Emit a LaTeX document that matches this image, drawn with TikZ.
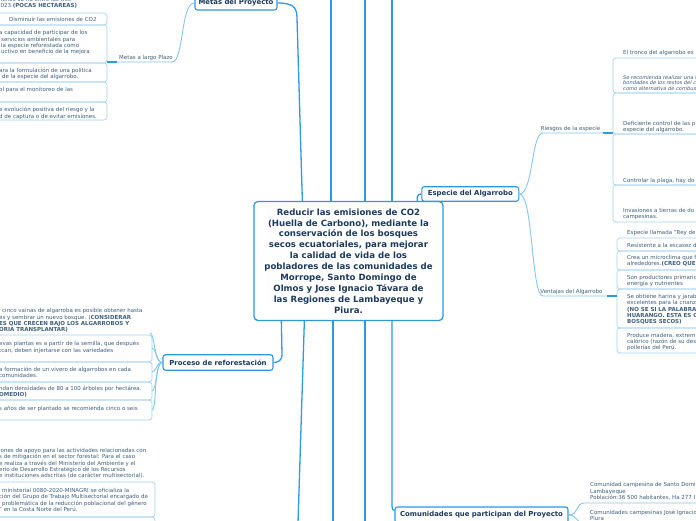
\documentclass[tikz,border=0pt]{standalone}
\usepackage{fontspec}
\setmainfont{DejaVu Sans}
\usetikzlibrary{calc}
\definecolor{navy}{HTML}{1C3A5E}
\definecolor{slate}{HTML}{3E5F7E}
\definecolor{topicblue}{HTML}{2F97E0}
\definecolor{linkblue}{HTML}{2C9BE5}
\definecolor{subblue}{HTML}{86C5EE}
\definecolor{boxblue}{HTML}{A6D3F2}
\tikzset{
  conn/.style={draw=linkblue, line width=1.3pt},
  subconn/.style={draw=subblue, line width=0.9pt},
  itembox/.style={draw=boxblue, line width=0.7pt, rounded corners=3pt},
  topic/.style={draw=topicblue, line width=1.1pt, rounded corners=2.5pt, fill=white, text=navy,
    font=\bfseries\fontsize{6.9}{8}\selectfont, inner sep=0pt},
  central/.style={draw=topicblue, line width=1.3pt, rounded corners=4pt, fill=white, text=navy,
    font=\bfseries\fontsize{8.6}{10.9}\selectfont, align=center, inner sep=0pt,
    minimum width=189pt, minimum height=119pt},
  itemtxt/.style={anchor=west, align=left, inner sep=0pt, text=slate, font=\fontsize{5.5}{6.3}\selectfont},
  sublabel/.style={inner sep=0pt, text=slate, font=\fontsize{5.5}{6.3}\selectfont}
}
\begin{document}
\begin{tikzpicture}[x=1pt,y=-1pt]
\useasboundingbox (0,0) rectangle (696,520);
\clip (0,0) rectangle (696,520);
\fill[white] (0,0) rectangle (696,520);

% ---------- item boxes ----------
% Metas a largo plazo
\foreach \a/\b in {13/25,25/63,63/82,82/102,102/120}
  \draw[itembox] (-10,\a) rectangle (107,\b);
% Proceso de reforestacion
\foreach \a/\b in {335/362,362/382,382/400,400/420}
  \draw[itembox] (-10,\a) rectangle (152,\b);
% bottom-left items
\foreach \a/\b in {482/517,517/540}
  \draw[itembox] (-10,\a) rectangle (155,\b);
% Riesgos
\foreach \a/\b in {58/93,93/134,134/185,185/222}
  \draw[itembox] (613,\a) rectangle (710,\b);
% Ventajas
\foreach \a/\b in {238/251,251/270,270/289,289/328,328/353}
  \draw[itembox] (617,\a) rectangle (710,\b);

% ---------- nodes ----------
\node[central] (center) at (348.5,261) {Reducir las emisiones de CO2\\(Huella de Carbono), mediante la\\conservación de los bosques\\secos ecuatoriales, para mejorar\\la calidad de vida de los\\pobladores de las comunidades de\\Morrope, Santo Domingo de\\Olmos y Jose Ignacio Távara de\\las Regiones de Lambayeque y\\Piura.};
\node[topic, minimum width=82pt, minimum height=14pt] (metas) at (236,3) {Metas del Proyecto};
\node[topic, minimum width=97pt, minimum height=14.5pt] (especie) at (470.3,194) {Especie del Algarrobo};
\node[topic, minimum width=110pt, minimum height=15.5pt] (proceso) at (218,362.5) {Proceso de reforestación};
\node[topic, minimum width=173pt, minimum height=16pt] (comun) at (481.5,515) {Comunidades que participan del Proyecto};

\coordinate (t2) at (331,-3);
\coordinate (b2) at (333,523);
\coordinate (t3) at (365,-3);
\coordinate (b3) at (365,523);
\coordinate (t4) at (392,-3);
\coordinate (b1) at (298,523);

% ---------- main connectors ----------
\draw[conn] (metas.east) .. controls +(15,0) and +(0,-11) .. (297,18) -- ($(center.north west)+(49,0)$);
\draw[conn] ($(center.south west)+(51,0)$) -- (b1);
\draw[conn] (t2) -- (t2 |- center.north);
\draw[conn] (center.south -| b2) -- (b2);
\draw[conn] (t3) -- (t3 |- center.north);
\draw[conn] (center.south -| b3) -- (b3);
\draw[conn] (t4) -- (t4 |- center.north);
\draw[conn] (center.south -| t4) -- (392,505) .. controls (392,509) and (393,511) .. ($(comun.north west)+(0,4)$);
\draw[conn] ($(center.south west)+(28,0)$) -- (282,355) .. controls +(0,5) and +(5,0) .. (proceso.east);
\draw[conn] ($(center.north west)+(164,0)$) -- ++(0,-4) .. controls +(0,-2) and +(-2,0) .. (especie.west);

% ---------- sub connectors ----------
\node[sublabel] (largo) at (146,58) {Metas a largo Plazo};
\draw[subconn] (metas.west) .. controls +(-14,0) and +(12,0) .. (172,62) -- (107,62);
\draw[conn] (117,62) -- (107,62);

\node[sublabel] (riesgos) at (570.5,128.5) {Riesgos de la especie};
\draw[subconn] (especie.east) .. controls +(14,0) and +(-12,0) .. (543,133) -- (613,133);
\draw[conn] (603,133) -- (613,133);

\node[sublabel] (ventajas) at (571.5,291.5) {Ventajas del Algarrobo};
\draw[subconn] (especie.east) .. controls +(14,0) and +(-12,0) .. (543,296) -- (617,296);
\draw[conn] (607,296) -- (617,296);

\draw[subconn] (proceso.west) .. controls +(-9,0) and +(5,0) .. (150,333);
\draw[subconn] (proceso.west) .. controls +(-7,0) and +(5,0) .. (152,348.5);
\draw[subconn] (proceso.west) .. controls +(-7,0) and +(5,0) .. (152,372);
\draw[subconn] (proceso.west) .. controls +(-7,0) and +(5,0) .. (152,391);
\draw[subconn] (proceso.west) .. controls +(-9,0) and +(5,0) .. (152,410);

\draw[subconn] (comun.east) .. controls +(10,0) and +(-8,0) .. (584,503) -- (700,503);
\draw[subconn] (comun.east) .. controls +(8,0) and +(-6,0) .. (584,524);

% ---------- item texts: Metas ----------
\node[itemtxt] (m0) at (-3,2.5) {menos 12 ha entre las tres\\2023.\textbf{(POCAS HECTAREAS)}};
\node[itemtxt] (m1) at (9,19.5) {Disminuir las emisiones de CO2};
\node[itemtxt] (m2) at (-1,42.8) {a capacidad de participar de los\\\hspace{2pt}servicios ambientales para\\\hspace{2pt}la especie reforestada como\\\hspace{2pt}uctivo en beneficio de la mejora};
\node[itemtxt] (m3) at (-1,74) {ara la formulación de una política\\\hspace{3pt}de la especie del algarrobo.};
\node[itemtxt] (m4) at (-1,90) {ol para el monitoreo de las};
\node[itemtxt] (m5) at (-1,113.5) {e evolución positiva del riesgo y la\\d de captura o de evitar emisiones.};

% ---------- item texts: Proceso ----------
\node[itemtxt] (p0) at (-1,320.5) {\hspace{3pt}cinco vainas de algarroba es posible obtener hasta\\es y sembrar un nuevo bosque. (\textbf{CONSIDERAR}\\\textbf{ES QUE CRECEN BAJO LOS ALGARROBOS Y}\\\textbf{ORIA TRANSPLANTAR)}};
\node[itemtxt] (p1) at (-1,350) {evas plantas es a partir de la semilla, que después\\tcan, deben injertarse con las variedades\\.};
\node[itemtxt] (p2) at (-1,372.5) {a formación de un vivero de algarrobos en cada\\comunidades.};
\node[itemtxt] (p3) at (-1,392) {ndan densidades de 80 a 100 árboles por hectárea.\\\textbf{OMEDIO)}};
\node[itemtxt] (p4) at (-1,408.5) {s años de ser plantado se recomienda cinco o seis};

% ---------- item texts: bottom left ----------
\node[itemtxt] (l0) at (-1,463.5) {iones de apoyo para las actividades relacionadas con\\s de mitigación en el sector forestal: Para el caso\\e realiza a través del Ministerio del Ambiente y el\\erio de Desarrollo Estratégico de los Recursos\\e instituciones adscritas (de carácter multisectorial).};
\node[itemtxt] (l1) at (-1,500) {\hspace{3pt}ministerial 0080-2020-MINAGRI se oficializa la\\ción del Grupo de Trabajo Multisectorial encargado de\\\hspace{3pt}problemática de la reducción poblacional del género\\" en la Costa Norte del Perú.};

% ---------- item texts: Riesgos ----------
\node[itemtxt] (r0) at (623,52.5) {El tronco del algarrobo es};
\node[itemtxt, font=\itshape\fontsize{5.1}{5.7}\selectfont] (r1) at (623,83) {Se recomienda realizar una inve\\bondades de los restos del coco\\como alternativa de combustib};
\node[itemtxt] (r2) at (623,127) {Deficiente control de las p\\especie del algarrobo.};
\node[itemtxt] (r3) at (623,181) {Controlar la plaga, hay do};
\node[itemtxt] (r4) at (623,214) {Invasiones a tierras de do\\campesinas.};

% ---------- item texts: Ventajas ----------
\node[itemtxt] (v0) at (627,233) {Especie llamada "Rey del};
\node[itemtxt] (v1) at (627,245) {Resistente a la escasez d};
\node[itemtxt] (v2) at (627,261) {Crea un microclima que f\\alrededores.\textbf{(CREO QUE}};
\node[itemtxt] (v3) at (627,281) {Son productores primario\\energía y nutrientes};
\node[itemtxt] (v4) at (627,309.5) {Se obtiene harina y jarab\\excelentes para la crianz\\\textbf{(NO SE SI LA PALABRA}\\\textbf{HUARANGO. ESTA ES O}\\\textbf{BOSQUES SECOS)}};
\node[itemtxt] (v5) at (627,342) {Produce madera, extrem\\calórico (razón de su des\\pollerías del Perú.};

% ---------- item texts: Comunidades ----------
\node[itemtxt] (c0) at (590,491.5) {Comunidad campesina de Santo Domi\\Lambayeque\\Población:36 500 habitantes, Ha 277 I};
\node[itemtxt] (c1) at (590,515) {Comunidades campesinas José Ignacio\\Piura};
\end{tikzpicture}
\end{document}
